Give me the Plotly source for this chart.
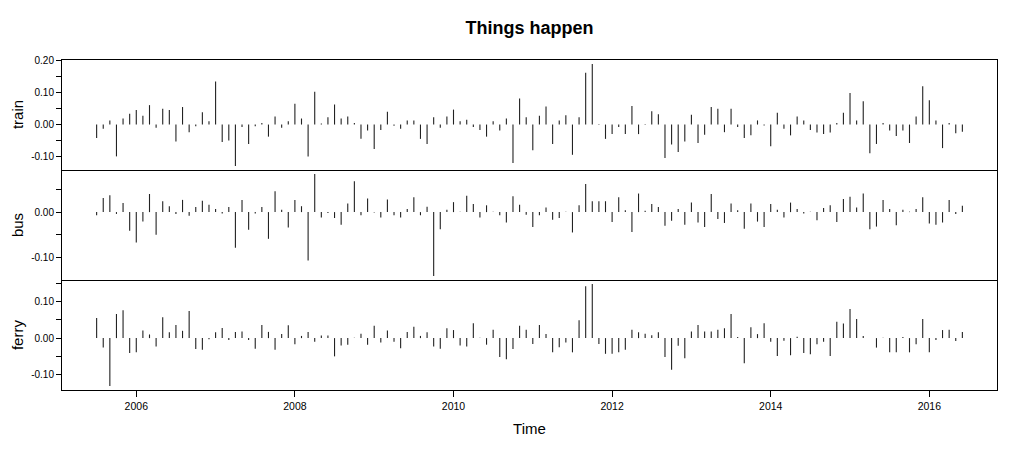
import numpy as np
import plotly.graph_objects as go

# monthly series, Jul 2005 .. Jun 2016
start_year = 2005.5
train = [
    -0.042, -0.013, 0.013, -0.100, 0.019, 0.034, 0.046, 0.028, 0.061, -0.010, 0.050, 0.046,
    -0.053, 0.055, -0.024, -0.005, 0.039, 0.010, 0.135, -0.055, -0.050, -0.130, -0.008, -0.061,
    -0.005, 0.005, -0.038, 0.025, -0.010, 0.010, 0.065, 0.019, -0.100, 0.103,
    0.003, 0.023, 0.063, 0.019, 0.025, 0.005, -0.045, -0.019, -0.077, -0.017, 0.040, -0.004,
    -0.013, 0.013, 0.013, -0.045, -0.061, 0.023, -0.010, 0.025, 0.047, 0.010, 0.015, -0.008,
    -0.017, -0.038, 0.010, -0.019, 0.019, -0.121, 0.082, 0.023,
    -0.081, 0.028, 0.057, -0.061, 0.013, 0.029, -0.095, 0.023, 0.163, 0.190, 0.002, -0.045,
    -0.030, -0.008, -0.030, 0.058, -0.030, 0.002, 0.042, 0.032, -0.105, -0.063, -0.086, -0.053,
    0.031, -0.058, -0.032, 0.055, 0.050, -0.024, 0.050, -0.008, -0.042,
    -0.034, 0.013, -0.003, -0.068, 0.037, -0.013, -0.034, 0.025, 0.013, -0.017, -0.025, -0.030,
    -0.025, 0.005, 0.037, 0.099, 0.013, 0.073, -0.090, -0.061, 0.005, -0.019, -0.036, -0.019,
    -0.058, 0.025, 0.120, 0.076, 0.013, -0.074, 0.005, -0.027, -0.023,
]
bus = [
    -0.007, 0.031, 0.037, -0.004, 0.020, -0.041, -0.067, -0.021, 0.040, -0.050, 0.024, 0.013,
    -0.004, 0.027, -0.008, 0.011, 0.025, 0.016, 0.007, -0.003, 0.011, -0.079, 0.027, -0.039,
    -0.003, 0.011, -0.059, 0.046, 0.005, -0.034, 0.027, 0.013, -0.107, 0.084,
    -0.012, -0.002, -0.013, -0.028, 0.019, 0.068, -0.007, 0.030, -0.001, -0.012, 0.028, -0.007,
    -0.012, 0.007, 0.033, -0.007, 0.012, -0.141, -0.038, 0.005, 0.022, 0.001, 0.036, 0.018,
    -0.012, 0.015, 0.001, -0.007, -0.023, 0.035, 0.016, -0.006,
    -0.033, -0.007, 0.010, -0.017, -0.013, 0.001, -0.045, 0.015, 0.062, 0.024, 0.024, 0.024,
    -0.022, 0.033, 0.004, -0.044, 0.041, 0.003, 0.018, 0.011, -0.030, -0.019, 0.007, -0.028,
    0.021, -0.023, -0.033, 0.040, -0.015, -0.024, 0.019, 0.004, -0.037,
    0.019, -0.021, -0.033, 0.018, 0.005, -0.012, 0.021, 0.007, -0.003, 0.001, -0.018, 0.009,
    0.015, -0.022, 0.029, 0.034, 0.010, 0.041, -0.038, -0.032, 0.027, 0.007, -0.029, 0.005,
    0.001, 0.007, 0.033, -0.025, -0.028, -0.023, 0.027, -0.004, 0.014,
]
ferry = [
    0.055, -0.026, -0.131, 0.066, 0.076, -0.041, -0.039, 0.021, 0.010, -0.023, 0.057, 0.016,
    0.036, 0.020, 0.074, -0.030, -0.032, -0.003, 0.016, 0.028, -0.005, 0.017, 0.018, -0.005,
    -0.029, 0.036, 0.017, -0.032, 0.011, 0.035, -0.017, 0.006, 0.017, -0.010,
    0.007, 0.007, -0.050, -0.020, -0.018, 0.001, 0.012, -0.018, 0.034, -0.012, 0.021, -0.010,
    -0.028, 0.017, 0.031, 0.006, 0.016, -0.023, -0.029, 0.027, 0.022, -0.020, -0.023, 0.041,
    0.001, -0.018, 0.023, -0.052, -0.058, -0.030, 0.034, 0.023,
    -0.016, 0.036, 0.011, -0.039, -0.025, -0.012, -0.039, 0.049, 0.142, 0.148, -0.016, -0.043,
    -0.043, -0.039, -0.032, 0.023, 0.016, 0.012, 0.008, 0.016, -0.052, -0.087, -0.021, -0.055,
    0.018, 0.036, 0.018, 0.018, 0.023, 0.027, 0.066, 0.003, -0.069,
    0.030, 0.011, 0.041, -0.010, -0.049, -0.007, -0.047, 0.004, -0.041, -0.044, -0.017, -0.010,
    -0.049, 0.045, 0.040, 0.080, 0.052, 0.006, 0.000, -0.026, 0.001, -0.039, -0.039, 0.003,
    -0.039, -0.017, 0.052, -0.039, -0.005, 0.022, 0.023, -0.008, 0.017,
]
series_names = ["train", "bus", "ferry"]
x_ticks = [2006, 2008, 2010, 2012, 2014, 2016]

t = start_year + np.arange(len(train)) / 12.0
FONT = "Liberation Sans, Arial, sans-serif"


def spikes(values):
    # vertical lines from zero to each value (R type="h")
    xs, ys = [], []
    for ti, v in zip(t, values):
        xs += [ti, ti, None]
        ys += [0, v, None]
    return xs, ys


def padded(lo, hi):
    r = hi - lo
    return [lo - 0.04 * r, hi + 0.04 * r]


fig = go.Figure()
panels = [("3", train, [2 / 3, 1]), ("2", bus, [1 / 3, 2 / 3]), ("", ferry, [0, 1 / 3])]
xrange = padded(t[0], t[-1])

for (suffix, vals, dom), name in zip(panels, series_names):
    xs, ys = spikes(vals)
    fig.add_trace(go.Scatter(x=xs, y=ys, mode="lines", xaxis="x" + suffix, yaxis="y" + suffix,
                             line=dict(color="#222222", width=1.1), showlegend=False,
                             hoverinfo="skip"))
    yr = padded(min(vals), max(vals))
    tv = np.arange(np.ceil(yr[0] / 0.05), np.floor(yr[1] / 0.05) + 1) * 0.05
    tt = [f"{v:.2f}" if int(round(v / 0.05)) % 2 == 0 else "" for v in tv]
    tt = [s.replace("-0.00", "0.00") for s in tt]
    bottom = suffix == ""
    top = suffix == "3"
    # only the top panel mirrors its x line, so shared panel borders stay single
    fig.layout["xaxis" + suffix] = dict(
        domain=[0, 1], anchor="y" + suffix, range=xrange,
        showline=True, mirror=top, linecolor="black", linewidth=1,
        showgrid=False, zeroline=False,
        tickvals=x_ticks if bottom else [], ticks="outside" if bottom else "",
        ticklen=6, tickcolor="black", showticklabels=bottom,
        tickfont=dict(family=FONT, size=10.5, color="black"),
        title=dict(text="Time", font=dict(family=FONT, size=15, color="black"), standoff=12) if bottom else None,
    )
    fig.layout["yaxis" + suffix] = dict(
        domain=dom, anchor="x" + suffix, range=yr,
        showline=True, mirror=True, linecolor="black", linewidth=1,
        showgrid=False, zeroline=False,
        tickvals=list(tv), ticktext=tt, ticks="outside", ticklen=5, tickcolor="black",
        tickfont=dict(family=FONT, size=10, color="black"),
    )
    fig.add_annotation(text=name, xref="paper", yref="paper", x=-0.048, y=(dom[0] + dom[1]) / 2,
                       xanchor="center", yanchor="middle", textangle=-90, showarrow=False,
                       font=dict(family=FONT, size=15, color="black"))

fig.update_layout(
    width=1024, height=462,
    margin=dict(l=62, r=27, t=60, b=72),
    paper_bgcolor="white", plot_bgcolor="white",
    title=dict(text="<b>Things happen</b>", x=0.517, xanchor="center", y=1 - 28 / 462, yanchor="middle",
               font=dict(family=FONT, size=18, color="black")),
)

# drop the default page margin so the figure sits at the window corner
fig.write_html("out.html", config={"displayModeBar": False},
               post_script="document.body.style.margin='0px';")
